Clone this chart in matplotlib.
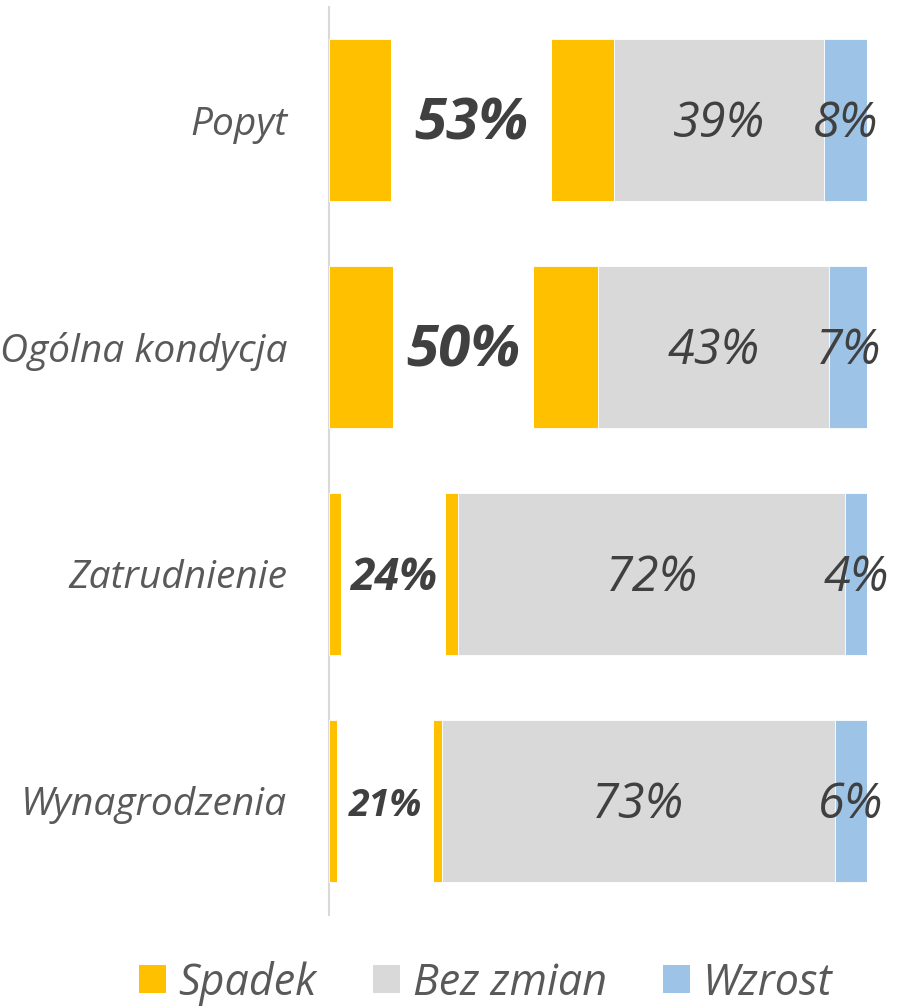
import matplotlib.pyplot as plt
from matplotlib.patches import Patch, Rectangle

kategorie = ["Popyt", "Ogólna kondycja", "Zatrudnienie", "Wynagrodzenia"]
spadek = [53, 50, 24, 21]
bez_zmian = [39, 43, 72, 73]
wzrost = [8, 7, 4, 6]
serie = ["Spadek", "Bez zmian", "Wzrost"]

# Schriftgrößen der fett gedruckten Spadek-Beschriftungen (je Zeile)
spadek_fs = [42, 42, 32, 27]
spadek_pad = [23, 13, 9, 12]

kolory = ["#FFC000", "#D9D9D9", "#9DC3E6"]
tekst = "#404040"
szary_tekst = "#595959"

plt.rcParams['font.family'] = ['Open Sans', 'DejaVu Sans']

fig = plt.figure(figsize=(9.04, 10.08), dpi=100)
ax = fig.add_axes([329 / 904, 1 - 914.5 / 1008, 538 / 904, 908 / 1008])

y = list(range(len(kategorie)))
h = 0.718
ax.barh(y, spadek, height=h, color=kolory[0], edgecolor="white", linewidth=0.6)
left2 = spadek
ax.barh(y, bez_zmian, left=left2, height=h, color=kolory[1], edgecolor="white", linewidth=0.6)
left3 = [a + b for a, b in zip(spadek, bez_zmian)]
ax.barh(y, wzrost, left=left3, height=h, color=kolory[2], edgecolor="white", linewidth=0.6)

ax.set_xlim(0, 100)
ax.set_ylim(len(kategorie) - 0.5, -0.5)
ax.set_yticks(y)
ax.set_yticklabels(kategorie, fontsize=28, style="italic", color=szary_tekst)
ax.tick_params(axis="y", length=0, pad=30)
ax.set_xticks([])
for s in ["top", "right", "bottom"]:
    ax.spines[s].set_visible(False)
ax.spines["left"].set_color("#D9D9D9")
ax.spines["left"].set_linewidth(1.5)
ax.spines["left"].set_zorder(0)

fig.canvas.draw()
renderer = fig.canvas.get_renderer()
inv = ax.transData.inverted()

dy = 0.02  # Beschriftungen leicht unter der Balkenmitte
for i in y:
    # Spadek: fett, mit weißem Hintergrund über die ganze Balkenhöhe
    t = ax.text(spadek[i] / 2, i + dy, f"{spadek[i]}%", ha="center", va="center",
                fontsize=spadek_fs[i], fontweight="bold", style="italic",
                color=tekst, zorder=5)
    bb = t.get_window_extent(renderer)
    x0 = inv.transform((bb.x0 - spadek_pad[i], 0))[0]
    x1 = inv.transform((bb.x1 + spadek_pad[i], 0))[0]
    ax.add_patch(Rectangle((x0, i - h / 2 - 0.01), x1 - x0, h + 0.02,
                           facecolor="white", edgecolor="none", zorder=4))
    ax.text(spadek[i] + bez_zmian[i] / 2, i + dy, f"{bez_zmian[i]}%", ha="center",
            va="center", fontsize=35, style="italic", color=tekst, zorder=5)
    ax.text(left3[i] + wzrost[i] / 2, i + dy, f"{wzrost[i]}%", ha="center",
            va="center", fontsize=35, style="italic", color=tekst, zorder=5)

uchwyty = [Patch(facecolor=c, edgecolor="none") for c in kolory]
fig.legend(uchwyty, serie, loc="lower center", bbox_to_anchor=(0.537, -0.036),
           ncol=3, frameon=False, prop={"size": 31, "style": "italic"},
           labelcolor=szary_tekst, handlelength=0.63, handleheight=0.63,
           handletextpad=0.3, columnspacing=1.3)

fig.savefig("out.png", dpi=100, facecolor="white")
